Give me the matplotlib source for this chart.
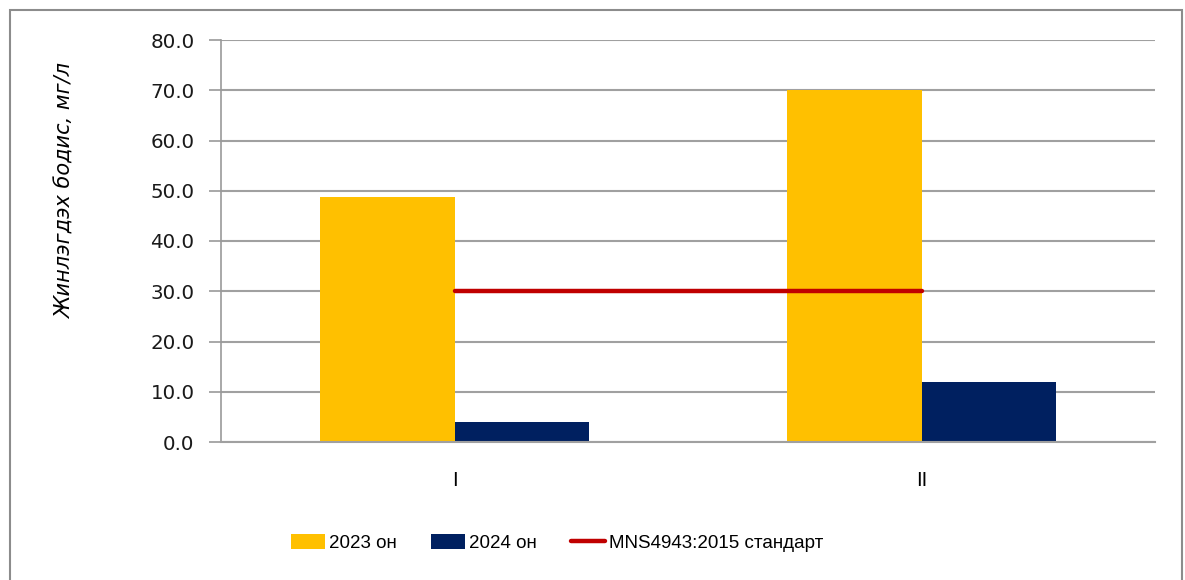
import matplotlib
matplotlib.use("Agg")
import matplotlib.pyplot as plt
from matplotlib.patches import Rectangle, Patch
from matplotlib.lines import Line2D
import numpy as np

categories = ["I", "II"]
values_2023 = [48.8, 70.0]
values_2024 = [3.9, 11.9]
standard = [30.0, 30.0]
series_labels = ["2023 он", "2024 он", "MNS4943:2015 стандарт"]
y_ticks = [0, 10, 20, 30, 40, 50, 60, 70, 80]
y_label = "Жинлэгдэх бодис, мг/л"

SANS = ["Liberation Sans"]

W, H = 1185, 580
fig = plt.figure(figsize=(W / 100, H / 100), dpi=100)
ax = fig.add_axes([221 / W, 1 - 442 / H, (1155 - 221) / W, (442 - 40) / H])

x = np.arange(len(categories))
bw = 0.287
ax.bar(x - bw / 2, values_2023, width=bw, color="#FFC000", zorder=3)
ax.bar(x + bw / 2, values_2024, width=bw, color="#002060", zorder=3)
ax.plot(x, standard, color="#C00000", linewidth=3.2, solid_capstyle="round", zorder=4)

ax.set_xlim(-0.5, len(categories) - 0.5)
ax.set_ylim(0, 80)
ax.set_yticks(y_ticks)
ax.set_yticklabels([f"{v:.1f}" for v in y_ticks], fontsize=14.3, family="DejaVu Sans", color="#1a1a1a")
ax.set_xticks(x)
ax.set_xticklabels(categories, fontsize=14.5, family=SANS, color="#000000")
ax.tick_params(axis="x", length=0, pad=21)
ax.tick_params(axis="y", length=9, width=1.2, color="#999999", pad=10)
ax.grid(axis="y", color="#A0A0A0", linewidth=1.5, zorder=0)
for s in ["top", "right"]:
    ax.spines[s].set_visible(False)
ax.spines["left"].set_color("#999999")
ax.spines["left"].set_linewidth(1.2)
ax.spines["bottom"].set_color("#A0A0A0")
ax.spines["bottom"].set_linewidth(1.5)
ax.spines["bottom"].set_zorder(5)

fig.text(66 / W, 1 - 191 / H, y_label, rotation=90, ha="center", va="center",
         fontsize=15, style="italic", family="DejaVu Sans", color="#000000")

handles = [Patch(facecolor="#FFC000"), Patch(facecolor="#002060"),
           Line2D([0], [0], color="#C00000", linewidth=3.2, solid_capstyle="round")]
leg = fig.legend(handles, series_labels, loc="center", bbox_to_anchor=(557 / W, 1 - 543 / H),
                 ncol=3, frameon=False, prop={"family": SANS, "size": 13.5},
                 handlelength=1.85, handleheight=0.8, handletextpad=0.2, columnspacing=1.8)

fig.patches.append(Rectangle((9.5 / W, -0.02), (1182 - 9.5) / W, 1 - 10 / H + 0.02,
                             transform=fig.transFigure, fill=False, edgecolor="#8C8C8C",
                             linewidth=1.5))

fig.savefig("out.png", dpi=100)
